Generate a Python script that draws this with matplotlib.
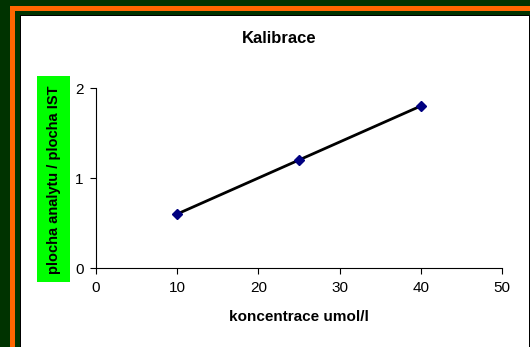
import matplotlib
matplotlib.use("Agg")
import matplotlib.pyplot as plt
from matplotlib.patches import Rectangle

# calibration points
konc = [10, 25, 40]
pomer = [0.6, 1.2, 1.8]
x_ticks = [0, 10, 20, 30, 40, 50]
y_ticks = [0, 1, 2]

plt.rcParams["font.family"] = ["Liberation Sans", "DejaVu Sans"]

W, H = 530, 347
fig = plt.figure(figsize=(W / 100, H / 100), dpi=100)
fig.patch.set_facecolor("#003300")


def px_rect(x0, y0, x1, y1, **kw):
    # rectangle in pixel units, measured from the top-left corner
    r = Rectangle((x0 / W, 1 - y1 / H), (x1 - x0) / W, (y1 - y0) / H,
                  transform=fig.transFigure, zorder=0, **kw)
    fig.patches.append(r)


# orange frame and the white chart panel
px_rect(10, 6, 540, 360, facecolor="#ff6600", edgecolor="none")
px_rect(15, 11, 540, 360, facecolor="#003300", edgecolor="none")
px_rect(20, 15, 530, 360, facecolor="black", edgecolor="none")
px_rect(21, 16, 529, 360, facecolor="white", edgecolor="none")

ax = fig.add_axes([96 / W, 1 - 268 / H, 406 / W, 180 / H])
ax.set_zorder(5)
ax.set_facecolor("none")
ax.plot(konc, pomer, color="black", lw=2, marker="D", ms=5,
        mfc="#000080", mec="#000080", zorder=3)

ax.set_xlim(0, 50)
ax.set_ylim(0, 2)
ax.set_xticks(x_ticks)
ax.set_yticks(y_ticks)
for s in ["top", "right"]:
    ax.spines[s].set_visible(False)
for s in ["left", "bottom"]:
    ax.spines[s].set_linewidth(0.8)
ax.tick_params(direction="out", length=4, width=0.8, labelsize=11, pad=5)

ax.set_title("Kalibrace", fontsize=12, fontweight="bold", pad=0,
             x=(279 - 96) / 406, y=1 + (88 - 37) / 180 - 0.035)
ax.set_xlabel("koncentrace umol/l", fontsize=11, fontweight="bold", labelpad=11)

# y-axis label on a green box
px_rect(37, 76, 70, 282, facecolor="#00ff00", edgecolor="none")
fig.text(54 / W, 1 - 180 / H, "plocha analytu / plocha IST", rotation=90,
         ha="center", va="center", fontsize=10.5, fontweight="bold", zorder=6)

fig.savefig("out.png", dpi=100, facecolor=fig.get_facecolor())
